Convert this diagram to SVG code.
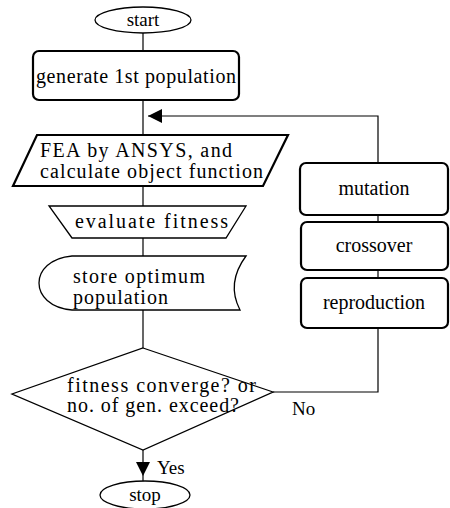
<svg xmlns="http://www.w3.org/2000/svg" width="450" height="508" viewBox="0 0 450 508" font-family="'Liberation Serif', 'DejaVu Serif', 'Times New Roman', serif">
<style>
text{font-family:'Liberation Serif','DejaVu Serif','Times New Roman',serif;font-size:20px;fill:#000}
.s{fill:#fff;stroke:#000;stroke-width:1.3}
.b{fill:#fff;stroke:#000;stroke-width:2.2}
.c{fill:none;stroke:#000;stroke-width:1.2}
.m{text-anchor:middle}
.sm{font-size:19px}
</style>
<defs>
<marker id="ah" viewBox="0 0 10 10" refX="10" refY="5" markerWidth="14" markerHeight="14" markerUnits="userSpaceOnUse" orient="auto">
<path d="M0,0L10,5L0,10z" fill="#000"/>
</marker>
</defs>
<rect width="450" height="508" fill="#fff"/>
<g id="connectors">
<line class="c" x1="143" y1="33" x2="143" y2="51"/>
<line class="c" x1="143" y1="100" x2="143" y2="135"/>
<line class="c" x1="143" y1="185" x2="143" y2="206"/>
<line class="c" x1="143" y1="238" x2="143" y2="256"/>
<line class="c" x1="143" y1="310" x2="143" y2="348"/>
<polyline class="c" points="378,163 378,116 148,116" marker-end="url(#ah)"/>
<line class="c" x1="378" y1="215" x2="378" y2="222"/>
<line class="c" x1="378" y1="270" x2="378" y2="278"/>
<polyline class="c" points="378,328 378,392 273,392"/>
<line class="c" x1="143" y1="450" x2="143" y2="476" marker-end="url(#ah)"/>
<line class="c" x1="143" y1="476" x2="143" y2="481"/>
</g>
<g id="start">
<ellipse class="s" cx="143" cy="20" rx="48" ry="13"/>
<text class="m sm" x="143" y="26">start</text>
</g>
<g id="generate">
<rect class="b" x="33" y="51" width="206" height="49" rx="6"/>
<text x="36" y="83" textLength="200" lengthAdjust="spacing">generate  1st  population</text>
</g>
<g id="fea">
<polygon class="b" points="37,135 288,135 263,186 13,186"/>
<text x="40" y="157" textLength="192" lengthAdjust="spacing">FEA by  ANSYS,  and</text>
<text x="40" y="178" textLength="223" lengthAdjust="spacing">calculate object  function</text>
</g>
<g id="evaluate">
<polygon class="s" points="49,206 246,206 226,238 72,238"/>
<text x="75" y="228" textLength="153" lengthAdjust="spacing">evaluate  fitness</text>
</g>
<g id="store">
<path class="s" d="M72,256 L246,256 Q226,283 240,310 L72,310 C28,306 28,260 72,256 Z"/>
<text x="73" y="283" textLength="132" lengthAdjust="spacing">store  optimum</text>
<text x="73" y="304" textLength="95" lengthAdjust="spacing">population</text>
</g>
<g id="decision">
<polygon class="s" points="143,348 273,392 143,450 12,394"/>
<text x="67" y="392" textLength="189" lengthAdjust="spacing">fitness converge? or</text>
<text x="67" y="412" textLength="172" lengthAdjust="spacing">no. of gen. exceed?</text>
</g>
<g id="stop">
<ellipse class="s" cx="145" cy="495" rx="45" ry="14"/>
<text class="m sm" x="145" y="501">stop</text>
</g>
<g id="mutation">
<rect class="b" x="300" y="163" width="148" height="52" rx="6"/>
<text class="m" x="374" y="195">mutation</text>
</g>
<g id="crossover">
<rect class="b" x="301" y="222" width="147" height="48" rx="6"/>
<text class="m" x="374" y="252">crossover</text>
</g>
<g id="reproduction">
<rect class="b" x="301" y="278" width="147" height="50" rx="6"/>
<text class="m" x="374" y="309">reproduction</text>
</g>
<g id="labels">
<text class="sm" x="292" y="415">No</text>
<text class="sm" x="157" y="474">Yes</text>
</g>
</svg>
